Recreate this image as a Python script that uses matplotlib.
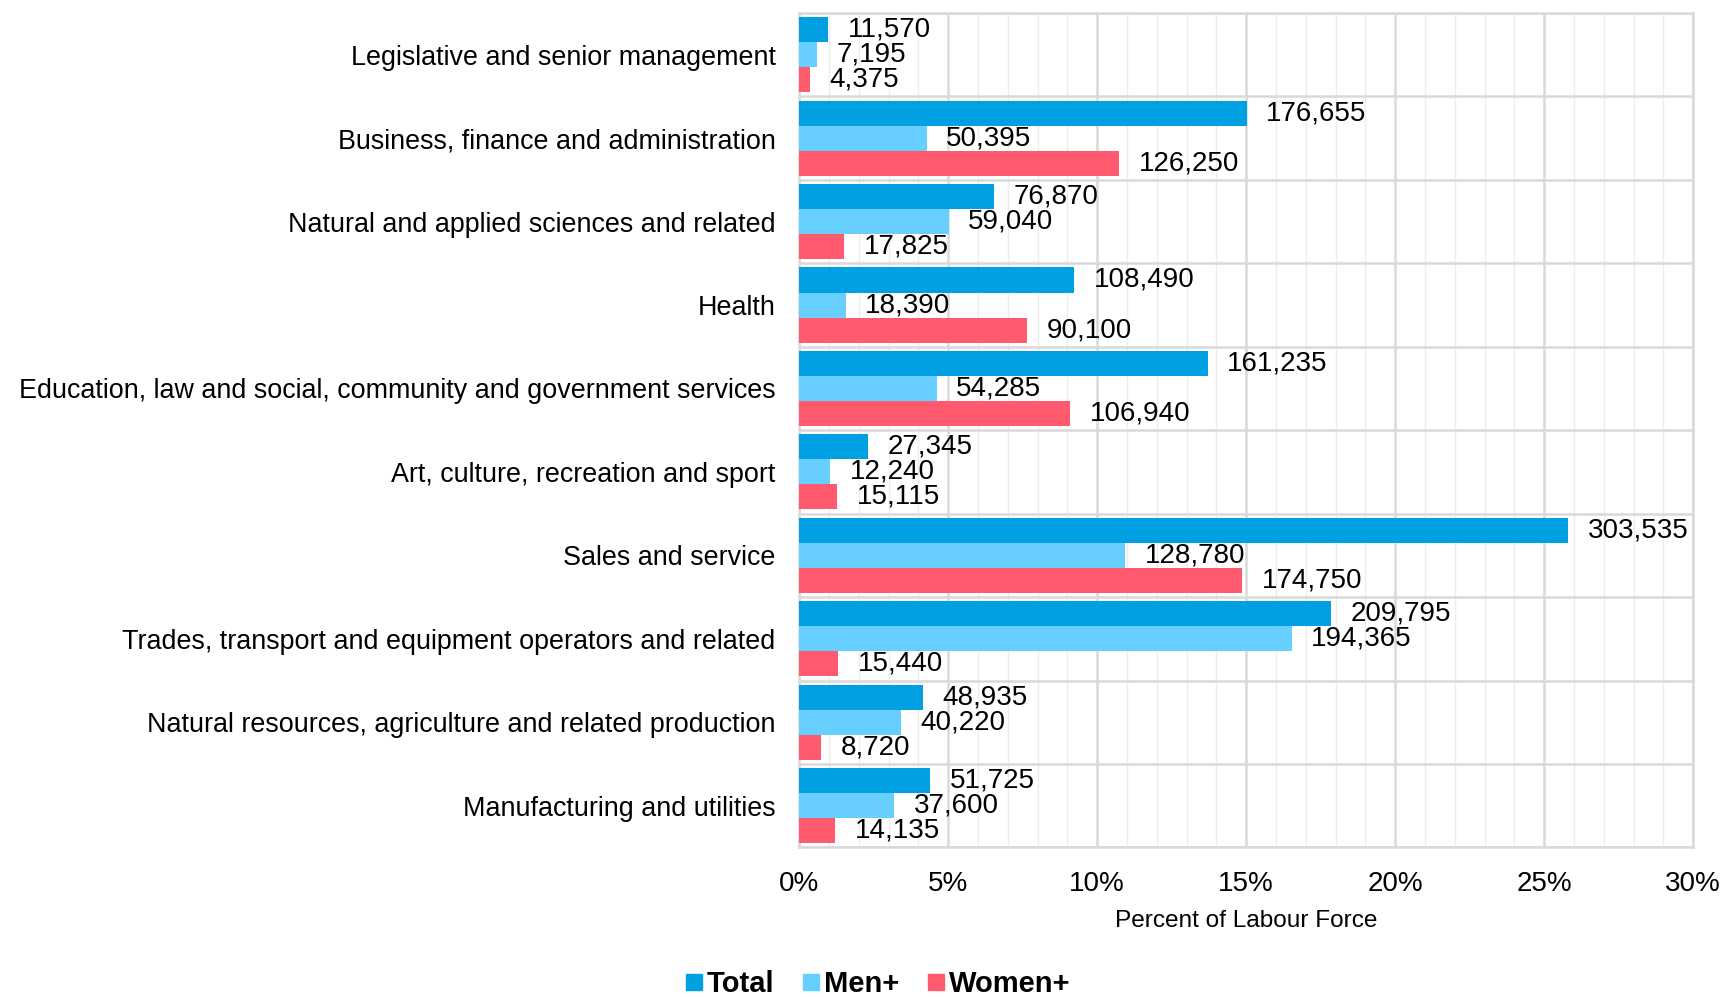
import numpy as np
import matplotlib
matplotlib.use("Agg")
import matplotlib.pyplot as plt
from matplotlib.ticker import PercentFormatter, MultipleLocator
from matplotlib.lines import Line2D

plt.rcParams['font.family'] = ['Liberation Sans', 'DejaVu Sans']

# occupation groups, top to bottom
categories = [
    "Legislative and senior management",
    "Business, finance and administration",
    "Natural and applied sciences and related",
    "Health",
    "Education, law and social, community and government services",
    "Art, culture, recreation and sport",
    "Sales and service",
    "Trades, transport and equipment operators and related",
    "Natural resources, agriculture and related production",
    "Manufacturing and utilities",
]
total = [11570, 176655, 76870, 108490, 161235, 27345, 303535, 209795, 48935, 51725]
men = [7195, 50395, 59040, 18390, 54285, 12240, 128780, 194365, 40220, 37600]
women = [4375, 126250, 17825, 90100, 106940, 15115, 174750, 15440, 8720, 14135]
series_names = ["Total", "Men+", "Women+"]

# bar length = share of the whole labour force
labour_force = sum(total)

colors = ["#00A0E3", "#66CFFF", "#FF5A6E"]

fig = plt.figure(figsize=(17.26, 9.97), dpi=100)
ax = fig.add_axes([0.463, 0.150, 0.518, 0.837])

y = np.arange(len(categories))
bar_h = 0.3
offsets = [-bar_h, 0, bar_h]

for vals, off, col in zip([total, men, women], offsets, colors):
    pct = np.array(vals) / labour_force * 100
    ax.barh(y + off, pct, height=bar_h, color=col, zorder=3)
    for yy, p, v in zip(y + off, pct, vals):
        ax.annotate(f"{v:,}", (p, yy), xytext=(14, 0), textcoords="offset points",
                    ha="left", va="center", fontsize=20, color="#000000", zorder=4)

ax.set_xlim(0, 30)
ax.set_ylim(len(categories) - 0.5, -0.5)
ax.xaxis.set_major_locator(MultipleLocator(5))
ax.xaxis.set_minor_locator(MultipleLocator(1))
ax.xaxis.set_major_formatter(PercentFormatter(decimals=0))
ax.set_yticks(y)
ax.set_yticklabels(categories)
ax.set_yticks(np.arange(-0.5, len(categories)), minor=True)

ax.grid(which="major", axis="x", color="#D9D9D9", lw=1.8, zorder=0)
ax.grid(which="minor", axis="x", color="#EDEDED", lw=1.0, zorder=0)
ax.grid(which="minor", axis="y", color="#D9D9D9", lw=1.8, zorder=0)
ax.grid(which="major", axis="y", visible=False)

ax.tick_params(axis="both", which="both", length=0)
ax.tick_params(axis="y", labelsize=19.4, pad=17)
ax.tick_params(axis="x", labelsize=20, pad=17)
for s in ax.spines.values():
    s.set_color("#D9D9D9")
    s.set_linewidth(1.8)

ax.set_xlabel("Percent of Labour Force", fontsize=17.6, labelpad=9)

handles = [Line2D([], [], marker="s", ls="", markersize=11.5, color=c) for c in colors]
fig.legend(handles, series_names, loc="center", bbox_to_anchor=(0.508, 0.013), ncol=3,
           frameon=False, prop={"size": 21, "weight": "bold"},
           handletextpad=0.1, columnspacing=0.9, handlelength=0.7)

fig.savefig("out.png", dpi=100)
